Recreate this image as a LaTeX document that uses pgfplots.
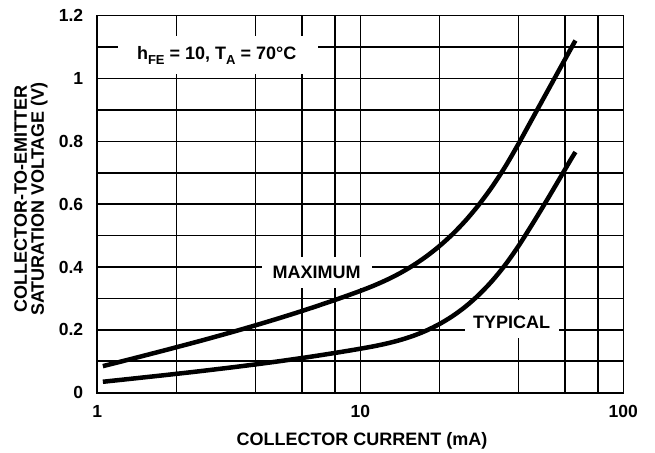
\documentclass[border=0pt]{standalone}
\usepackage{fontspec}
\setmainfont{Liberation Sans}
\usepackage{pgfplots}
\pgfplotsset{compat=1.18}
\pgfplotstableread{
x y
1.05 0.0845
1.259 0.1012
1.413 0.1119
1.585 0.1227
1.778 0.1335
1.995 0.1445
2.239 0.1556
2.512 0.1668
2.818 0.1783
3.162 0.1900
3.548 0.2019
3.981 0.2141
4.467 0.2266
5.012 0.2394
5.623 0.2525
6.310 0.2660
7.079 0.2799
7.943 0.2941
8.913 0.3088
10.00 0.3240
11.22 0.3404
12.59 0.3589
14.13 0.3801
15.85 0.4047
17.78 0.4331
19.95 0.4660
22.39 0.5040
25.12 0.5476
28.18 0.5974
31.62 0.6540
35.48 0.7180
39.81 0.7899
44.67 0.8660
50.12 0.9420
56.23 1.0180
63.10 1.0940
65.77 1.1210
}\maxdata
\pgfplotstableread{
x y
1.05 0.0348
1.259 0.0418
1.413 0.0463
1.585 0.0508
1.778 0.0553
1.995 0.0599
2.239 0.0646
2.512 0.0694
2.818 0.0744
3.162 0.0794
3.548 0.0846
3.981 0.0899
4.467 0.0954
5.012 0.1011
5.623 0.1070
6.310 0.1131
7.079 0.1195
7.943 0.1261
8.913 0.1329
10.00 0.1400
11.22 0.1476
12.59 0.1565
14.13 0.1673
15.85 0.1806
17.78 0.1973
19.95 0.2180
22.39 0.2434
25.12 0.2741
28.18 0.3110
31.62 0.3546
35.48 0.4057
39.81 0.4650
44.67 0.5310
50.12 0.5995
56.23 0.6700
63.10 0.7415
65.77 0.7660
}\typdata
\begin{document}
\begin{tikzpicture}
\path[use as bounding box] (-97.3bp,-60.3bp) rectangle (557.7bp,392.7bp);
\begin{axis}[
  at={(0,0)}, anchor=south west,
  scale only axis, width=526bp, height=377bp,
  xmode=log, xmin=1, xmax=100, ymin=0, ymax=1.2,
  log basis x=10,
  xtick={1,10,100}, xticklabels={1,10,100},
  minor xtick={2,4,6,8,20,40,60,80},
  ytick={0,0.2,0.4,0.6,0.8,1,1.2},
  yticklabels={0,0.2,0.4,0.6,0.8,1,1.2},
  minor ytick={0.1,0.3,0.5,0.7,0.9,1.1},
  grid=both,
  major grid style={black, line width=1.6bp},
  minor grid style={black, line width=1.6bp},
  axis line style={black, line width=1.6bp},
  major tick length=0pt, minor tick length=0pt,
  tick label style={font=\bfseries\fontsize{17.5bp}{20bp}\selectfont, inner sep=0pt},
  xticklabel style={anchor=base, yshift=-24.8bp},
  yticklabel style={anchor=east, xshift=-14bp},
  clip=false,
]
\node[fill=white, inner sep=0pt, minimum width=200bp, minimum height=38bp] at (axis cs:2.877,1.0755) {};
\node[fill=white, inner sep=0pt, minimum width=110bp, minimum height=31bp] at (axis cs:6.83,0.3834) {};
\node[fill=white, inner sep=0pt, minimum width=94bp, minimum height=38bp] at (axis cs:37.7,0.2347) {};
\node[anchor=base, inner sep=0pt, font=\bfseries\fontsize{18bp}{20bp}\selectfont] at (axis cs:2.844,1.0618)
  {h\raisebox{-5.7bp}{\fontsize{13bp}{13bp}\selectfont FE} = 10, T\raisebox{-5.7bp}{\fontsize{13bp}{13bp}\selectfont A} = 70°C};
\node[anchor=base, inner sep=0pt, font=\bfseries\fontsize{18bp}{20bp}\selectfont] at (axis cs:6.83,0.3643) {MAXIMUM};
\node[anchor=base, inner sep=0pt, font=\bfseries\fontsize{18bp}{20bp}\selectfont] at (axis cs:37.6,0.2051) {TYPICAL};
\addplot[black, line width=4.5bp, smooth] table[x=x,y=y] {\maxdata};
\addplot[black, line width=4.5bp, smooth] table[x=x,y=y] {\typdata};
\end{axis}
\node[anchor=base, inner sep=0pt, font=\bfseries\fontsize{18bp}{20bp}\selectfont] at (264.7bp,-52.3bp) {COLLECTOR CURRENT (mA)};
\node[rotate=90, align=center, inner sep=0pt, font=\bfseries\fontsize{18bp}{17bp}\selectfont] at (-66.3bp,193.7bp) {COLLECTOR-TO-EMITTER\\SATURATION VOLTAGE (V)};
\end{tikzpicture}
\end{document}
